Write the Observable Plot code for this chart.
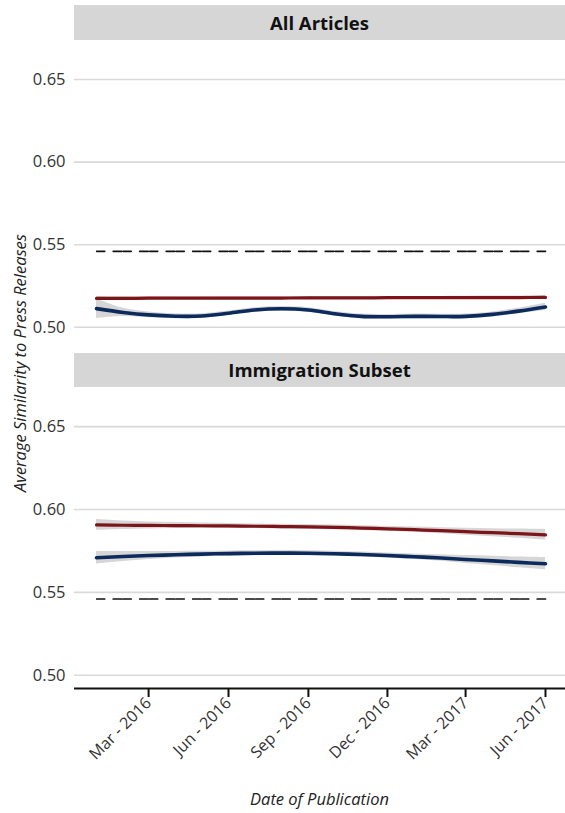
<!DOCTYPE html>
<html><head><meta charset="utf-8">
<script src="https://cdn.jsdelivr.net/npm/d3@7"></script>
<script src="https://cdn.jsdelivr.net/npm/@observablehq/plot@0.6"></script>
<style>
body{margin:0;background:#fff;font-family:"Open Sans",sans-serif;}
#wrap{position:relative;width:565px;height:813px;overflow:hidden;}
.strip{position:absolute;left:74px;width:491px;background:#d6d6d6;color:#111;font-weight:700;font-size:18.5px;text-align:center;}
.pl{position:absolute;left:0;}
#ytitle{position:absolute;left:19px;top:363px;transform:translate(-50%,-50%) rotate(-90deg);white-space:nowrap;font-style:italic;font-size:16.5px;color:#222;}
#xtitle{position:absolute;left:74px;width:491px;top:787px;text-align:center;font-style:italic;font-size:16.5px;color:#222;}
</style></head>
<body><div id="wrap">
<div class="strip" style="top:5px;height:35px;line-height:35px">All Articles</div>
<div class="strip" style="top:353px;height:34px;line-height:34px">Immigration Subset</div>
<div id="p1" class="pl" style="top:40px"></div>
<div id="p2" class="pl" style="top:387px"></div>
<div id="ytitle">Average Similarity to Press Releases</div>
<div id="xtitle">Date of Publication</div>
</div>
<script>
// ---- data ----
const months = ["2016-01-01","2016-02-01","2016-03-01","2016-04-01","2016-05-01","2016-06-01","2016-07-01","2016-08-01","2016-09-01","2016-10-01","2016-11-01","2016-12-01","2017-01-01","2017-02-01","2017-03-01","2017-04-01","2017-05-01","2017-06-01"];
const redAll  = [0.5175,0.5175,0.5176,0.5176,0.5176,0.5177,0.5177,0.5177,0.5178,0.5178,0.5178,0.5179,0.5179,0.5179,0.5180,0.5180,0.5180,0.5181];
const redAllSe = [0.0012,0.0010,0.0009,0.0008,0.0008,0.0008,0.0008,0.0008,0.0008,0.0008,0.0008,0.0008,0.0008,0.0008,0.0008,0.0009,0.0010,0.0012];
const blueAll = [0.5113,0.5090,0.5075,0.5067,0.5068,0.5085,0.5105,0.5112,0.5105,0.5082,0.5066,0.5064,0.5066,0.5065,0.5066,0.5078,0.5098,0.5123];
const blueAllSe = [0.0060,0.0025,0.0018,0.0015,0.0014,0.0014,0.0014,0.0014,0.0014,0.0014,0.0014,0.0014,0.0014,0.0014,0.0014,0.0015,0.0017,0.0022];
const redImm  = [0.5907,0.5905,0.5904,0.5903,0.5902,0.5901,0.5899,0.5897,0.5895,0.5892,0.5888,0.5883,0.5878,0.5872,0.5866,0.5860,0.5854,0.5847];
const redImmSe = [0.0033,0.0026,0.0021,0.0018,0.0016,0.0015,0.0014,0.0014,0.0014,0.0014,0.0014,0.0015,0.0016,0.0018,0.0021,0.0024,0.0028,0.0033];
const blueImm = [0.5709,0.5716,0.5722,0.5727,0.5731,0.5734,0.5736,0.5737,0.5736,0.5733,0.5728,0.5722,0.5715,0.5707,0.5698,0.5690,0.5681,0.5673];
const blueImmSe = [0.0038,0.0030,0.0024,0.0020,0.0017,0.0016,0.0015,0.0015,0.0015,0.0015,0.0015,0.0016,0.0017,0.0020,0.0024,0.0028,0.0033,0.0038];
const refLevel = 0.546;
const yTicks = [0.50,0.55,0.60,0.65];
const xTicks = ["2016-03-01","2016-06-01","2016-09-01","2016-12-01","2017-03-01","2017-06-01"];
const yDomain = [0.492, 0.6736];
const xDomain = ["2015-12-06T16:00:00Z","2017-06-24T01:00:00Z"];

const RED = "#7d1419", NAVY = "#0c2a5b";
const parse = s => new Date(s);
function rows(vals, se){ return months.map((m,i)=>({date:parse(m), v:vals[i], lo:vals[i]-se[i], hi:vals[i]+se[i]})); }
const refRows = [{date:parse(months[0]), v:refLevel},{date:parse(months[months.length-1]), v:refLevel}];

function panel(red, redSe, blue, blueSe, height, bottomAxis){
  const R = rows(red, redSe), B = rows(blue, blueSe);
  const marks = [
    Plot.gridY(yTicks, {stroke:"#d9d9d9", strokeOpacity:1, strokeWidth:1.6}),
    Plot.axisY(yTicks, {tickSize:0, tickPadding:9, tickFormat:d3.format(".2f"), fontSize:16.5, fill:"#333"}),
    Plot.areaY(B, {x:"date", y1:"lo", y2:"hi", fill:"#999", fillOpacity:0.4, curve:"catmull-rom"}),
    Plot.areaY(R, {x:"date", y1:"lo", y2:"hi", fill:"#999", fillOpacity:0.4, curve:"catmull-rom"}),
    Plot.line(R, {x:"date", y:"v", stroke:RED, strokeWidth:3.2, curve:"catmull-rom"}),
    Plot.line(B, {x:"date", y:"v", stroke:NAVY, strokeWidth:3.6, curve:"catmull-rom"}),
    Plot.line(refRows, {x:"date", y:"v", stroke:"#111", strokeWidth:1.7, strokeDasharray:"8.5,1.5,8,8.5", strokeDashoffset:9.8})
  ];
  if (bottomAxis){
    marks.push(Plot.ruleY([yDomain[0]], {stroke:"#111", strokeWidth:2}));
    marks.push(Plot.axisX(xTicks.map(parse), {tickSize:9, tickPadding:3, tickRotate:-45, strokeWidth:2, stroke:"#111", fontSize:16, fill:"#333", tickFormat:d3.utcFormat("%b - %Y")}));
  } else {
    marks.push(Plot.axisX({ticks:[], label:null}));
  }
  return Plot.plot({
    width:565, height: height,
    marginLeft:74, marginRight:0, marginTop:0, marginBottom: bottomAxis ? 125 : 0,
    style:{fontFamily:"Open Sans", background:"transparent", overflow:"visible"},
    x:{type:"utc", domain:xDomain.map(parse), label:null},
    y:{domain:yDomain, label:null},
    marks
  });
}
document.getElementById("p1").append(panel(redAll, redAllSe, blueAll, blueAllSe, 300, false));
document.getElementById("p2").append(panel(redImm, redImmSe, blueImm, blueImmSe, 426, true));
</script>
</body></html>
